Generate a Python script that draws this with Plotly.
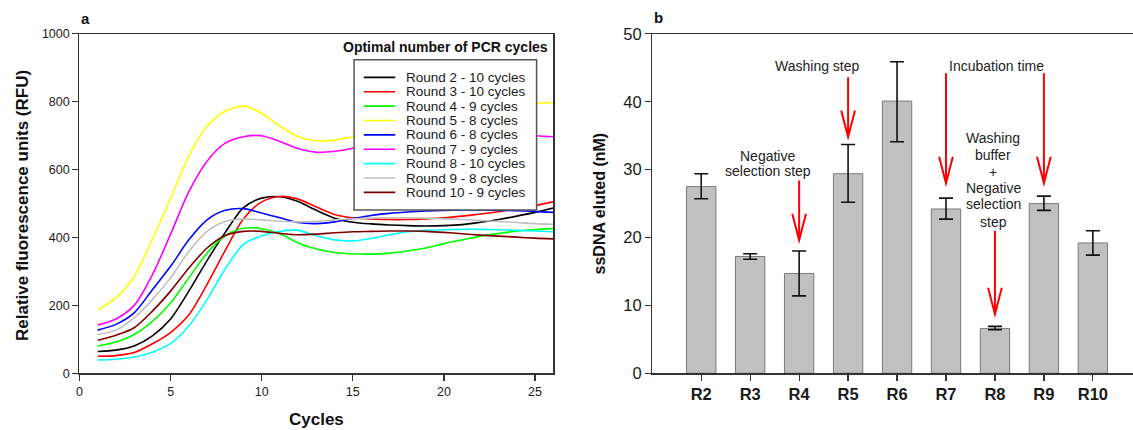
import plotly.graph_objects as go

W, H = 1133, 430
FONT = "Arial, Liberation Sans, sans-serif"

# ---------------- panel a data ----------------
cycles = list(range(1, 27))
round_names = ["Round 2 - 10 cycles", "Round 3 - 10 cycles", "Round 4 - 9 cycles",
               "Round 5 - 8 cycles", "Round 6 - 8 cycles", "Round 7 - 9 cycles",
               "Round 8 - 10 cycles", "Round 9 - 8 cycles", "Round 10 - 9 cycles"]
round_colors = ["#000000", "#FF0000", "#00FF00", "#FFFF00", "#0000FF",
                "#FF00FF", "#00FFFF", "#C0C0C0", "#800000"]

r2 = [64, 68, 80, 110, 160, 242, 332, 415, 488, 516, 520, 506, 480, 457, 445, 440, 437, 435, 434, 435, 438, 445, 453, 463, 474, 487]
r3 = [50, 52, 61, 87, 120, 172, 262, 362, 455, 505, 521, 513, 490, 468, 458, 455, 453, 453, 455, 458, 463, 469, 476, 484, 494, 505]
r4 = [80, 92, 114, 153, 207, 281, 354, 405, 427, 426, 411, 384, 366, 356, 352, 351, 354, 360, 369, 382, 393, 404, 412, 419, 423, 426]
r5 = [186, 222, 285, 395, 515, 640, 728, 772, 787, 766, 728, 697, 685, 687, 697, 707, 720, 733, 746, 758, 769, 779, 787, 793, 796, 797]
r6 = [127, 144, 178, 246, 315, 393, 452, 480, 485, 472, 458, 444, 441, 446, 456, 465, 471, 475, 478, 480, 481, 481, 480, 479, 477, 474]
r7 = [142, 160, 200, 290, 410, 535, 625, 678, 697, 700, 683, 662, 651, 654, 663, 676, 683, 689, 694, 698, 701, 703, 703, 702, 700, 697]
r8 = [39, 41, 48, 62, 87, 139, 217, 308, 380, 405, 418, 421, 405, 393, 390, 397, 408, 417, 421, 423, 424, 424, 423, 421, 419, 417]
r9 = [114, 127, 163, 217, 281, 359, 418, 447, 454, 452, 448, 446, 448, 452, 455, 457, 458, 458, 457, 455, 453, 450, 447, 444, 441, 439]
r10 = [97, 112, 134, 183, 242, 310, 369, 406, 418, 418, 412, 408, 410, 414, 417, 418, 419, 419, 418, 415, 411, 407, 404, 401, 398, 396]
round_series = [r2, r3, r4, r5, r6, r7, r8, r9, r10]

# ---------------- panel b data ----------------
rounds = ["R2", "R3", "R4", "R5", "R6", "R7", "R8", "R9", "R10"]
eluted = [27.5, 17.2, 14.7, 29.4, 40.1, 24.2, 6.6, 25.0, 19.2]
err_plus = [1.9, 0.4, 3.3, 4.3, 5.8, 1.6, 0.3, 1.1, 1.8]
err_minus = [1.8, 0.4, 3.3, 4.2, 6.0, 1.5, 0.2, 1.0, 1.8]

# annotation arrows: (category index, start value, tip value)
arrows = [(2, 28.4, 19.6), (3, 43.6, 34.8), (5, 44.2, 28.0), (7, 44.2, 28.0), (6, 21.0, 8.7)]
# annotation text lines: (text, x, y)
notes = [("Negative", 1.36, 32.0), ("selection step", 1.36, 29.8),
         ("Washing step", 2.38, 45.2), ("Incubation time", 6.03, 45.3),
         ("Washing", 5.97, 34.6), ("buffer", 5.97, 32.2), ("+", 5.97, 29.7),
         ("Negative", 5.97, 27.3), ("selection", 5.97, 24.9), ("step", 5.97, 22.3)]

fig = go.Figure()
for name, color, ys in zip(round_names, round_colors, round_series):
    fig.add_trace(go.Scatter(x=cycles, y=ys, mode="lines", name=name, showlegend=False,
                             line=dict(color=color, width=1.6, shape="spline", smoothing=0.8),
                             xaxis="x", yaxis="y"))

bar_x = list(range(len(rounds)))
fig.add_trace(go.Bar(x=bar_x, y=eluted, width=0.6, showlegend=False,
                     marker=dict(color="#C0C0C0", line=dict(color="#7a7a7a", width=1)),
                     error_y=dict(type="data", symmetric=False, array=err_plus, arrayminus=err_minus,
                                  color="#111111", thickness=1.6, width=7),
                     xaxis="x2", yaxis="y2"))

def px(x):
    return x / W

def py(y):
    # vertical placement calibrated against the rendered screenshot
    return 1 - (y - 8) / 414

ydom = [py(374), py(33)]
axis_common = dict(showgrid=False, zeroline=False, showline=True, linecolor="#333333", linewidth=1.3,
                   ticks="outside", ticklen=6, tickwidth=1.2, tickcolor="#333333")

fig.update_layout(
    width=W, height=H, margin=dict(l=0, r=0, t=0, b=0, pad=0), autosize=False,
    paper_bgcolor="white", plot_bgcolor="white",
    font=dict(family=FONT, color="#1a1a1a"),
    hovermode=False,
    xaxis=dict(domain=[px(76.7), px(551.7)], range=[0, 26], tickvals=[0, 5, 10, 15, 20, 25],
               mirror=True, anchor="y", tickfont=dict(size=12.5), **axis_common),
    yaxis=dict(domain=ydom, range=[0, 1000], tickvals=[0, 200, 400, 600, 800, 1000],
               mirror=True, anchor="x", tickfont=dict(size=12.5), **axis_common),
    xaxis2=dict(domain=[px(651), 1.0], range=[-1, 8.82], tickvals=bar_x, ticktext=rounds,
                mirror=True, anchor="y2", tickfont=dict(size=16.5, weight="bold"), **axis_common),
    yaxis2=dict(domain=ydom, range=[0, 50], tickvals=[0, 10, 20, 30, 40, 50],
                anchor="x2", tickfont=dict(size=16.5), **axis_common),
)

shapes = []
# arrows on panel b
for xa, y0, tip in arrows:
    shapes.append(dict(type="path", xref="x2", yref="y2",
                       path=f"M {xa},{y0} L {xa},{tip} M {xa-0.14},{tip+3.9} L {xa},{tip} L {xa+0.14},{tip+3.9}",
                       line=dict(color="#FF0000", width=2)))
# legend box for panel a
shapes.append(dict(type="rect", xref="paper", yref="paper", x0=px(352), x1=px(535), y0=py(210), y1=py(59),
                   line=dict(color="#555555", width=1.5), fillcolor="white", layer="above"))
annotations = []
for i, (name, color) in enumerate(zip(round_names, round_colors)):
    yy = 76.7 + 14.45 * i
    shapes.append(dict(type="line", xref="paper", yref="paper", x0=px(361.7), x1=px(393.3),
                       y0=py(yy), y1=py(yy), line=dict(color=color, width=1.6), layer="above"))
    annotations.append(dict(text=name, xref="paper", yref="paper", x=px(401.7), y=py(yy),
                            xanchor="left", yanchor="middle", showarrow=False,
                            font=dict(size=13.5, color="#1a1a1a")))
annotations.append(dict(text="<b>Optimal number of PCR cycles</b>", xref="paper", yref="paper",
                        x=px(443.3), y=py(46.5), xanchor="center", yanchor="middle", showarrow=False,
                        font=dict(size=14, color="#111111")))

for text, xa, ya in notes:
    annotations.append(dict(text=text, xref="x2", yref="y2", x=xa, y=ya, showarrow=False,
                            xanchor="center", yanchor="middle", font=dict(size=14, color="#222222")))

# axis titles and panel labels
annotations += [
    dict(text="<b>Cycles</b>", xref="paper", yref="paper", x=px(314), y=py(420), showarrow=False,
         xanchor="center", yanchor="middle", font=dict(size=17, color="#111111")),
    dict(text="<b>Relative fluorescence units (RFU)</b>", xref="paper", yref="paper", x=px(19), y=py(205),
         showarrow=False, textangle=-90, xanchor="center", yanchor="middle", font=dict(size=17, color="#111111")),
    dict(text="<b>ssDNA eluted (nM)</b>", xref="paper", yref="paper", x=px(598), y=py(203),
         showarrow=False, textangle=-90, xanchor="center", yanchor="middle", font=dict(size=16, color="#111111")),
    dict(text="<b>a</b>", xref="paper", yref="paper", x=px(83), y=py(18), showarrow=False,
         xanchor="center", yanchor="middle", font=dict(size=15, color="#111111")),
    dict(text="<b>b</b>", xref="paper", yref="paper", x=px(657), y=py(17), showarrow=False,
         xanchor="center", yanchor="middle", font=dict(size=15, color="#111111")),
]

fig.update_layout(shapes=shapes, annotations=annotations)
fix_js = ("document.documentElement.style.margin='0';document.documentElement.style.overflow='hidden';"
          "document.body.style.margin='0';document.body.style.overflow='hidden';"
          "var g=document.getElementById('{plot_id}');g.style.position='fixed';g.style.top='0px';g.style.left='0px';")
fig.write_html("out.html",
               config={"responsive": False, "displayModeBar": False, "staticPlot": True},
               post_script=fix_js)
